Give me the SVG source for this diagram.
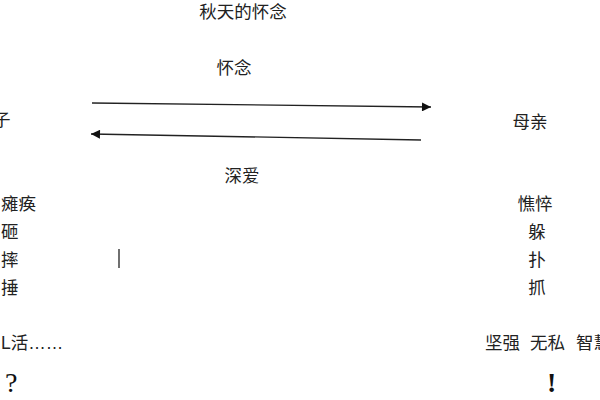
<svg xmlns="http://www.w3.org/2000/svg" width="600" height="400" viewBox="0 0 600 400">
<defs>
<style>
text{font-family:"Liberation Sans","Noto Sans CJK SC",sans-serif;font-size:17.5px;fill:#222}
.p{font-family:"Liberation Serif","Noto Sans CJK SC",serif;font-size:28px;fill:#111}
.b{font-weight:bold}
.c{text-anchor:middle}
line{stroke:#222;stroke-width:1.3}
</style>
<marker id="ah" viewBox="0 0 10 10" refX="10" refY="5" markerWidth="11" markerHeight="9" markerUnits="userSpaceOnUse" orient="auto">
<path d="M0,0 L10,5 L0,10 z" fill="#111"/>
</marker>
</defs>
<rect width="600" height="400" fill="#fff"/>
<g id="title"><text class="c" x="243" y="18">秋天的怀念</text></g>
<g id="connectors">
<line x1="92" y1="103" x2="431" y2="107" marker-end="url(#ah)"/>
<line x1="421" y1="140" x2="91" y2="134" marker-end="url(#ah)"/>
<text class="c" x="234" y="74">怀念</text>
<text class="c" x="242" y="182">深爱</text>
</g>
<g id="son">
<text x="-7" y="126">子</text>
<text x="1" y="210">瘫痪</text>
<text x="1" y="238">砸</text>
<text x="1" y="266">摔</text>
<text x="1" y="294">捶</text>
<line x1="119" y1="249" x2="119" y2="268"/>
<text x="1" y="349">L活……</text>
<text class="p" x="5" y="392">?</text>
</g>
<g id="mother">
<text class="c" x="530" y="128">母亲</text>
<text class="c" x="535" y="210">憔悴</text>
<text class="c" x="537" y="238">躲</text>
<text class="c" x="537" y="266">扑</text>
<text class="c" x="537" y="294">抓</text>
<text y="349"><tspan x="485">坚强</tspan><tspan x="530">无私</tspan><tspan x="576">智慧</tspan></text>
<text class="p b" x="547" y="392">!</text>
</g>
</svg>
